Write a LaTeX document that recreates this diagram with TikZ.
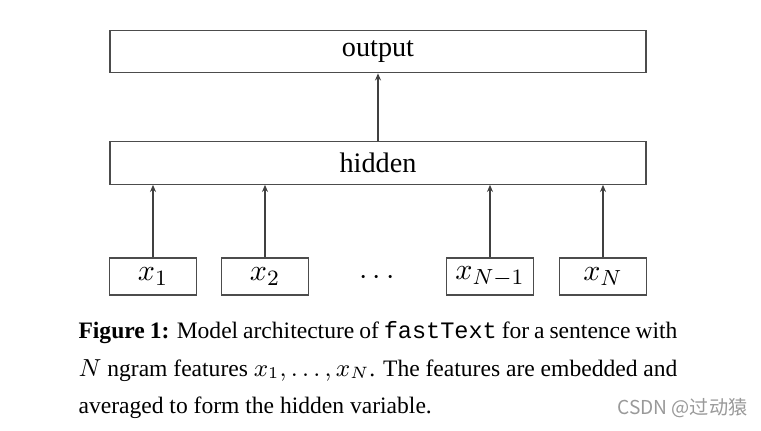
\documentclass[tikz,border=0pt]{standalone}
\usepackage{fontspec}
\setmainfont{Liberation Serif}
\setmonofont{Liberation Mono}
\newfontfamily\cjkfont{Noto Sans CJK SC}
\usetikzlibrary{arrows.meta, positioning}

\begin{document}
\begin{tikzpicture}[x=0.365pt, y=-0.365pt,
    layerbox/.style={draw=black!70, line width=0.45pt, minimum width=195.6pt,
      minimum height=15.5pt, inner sep=0pt, font=\fontsize{10.3}{12}\selectfont},
    inbox/.style={draw=black!70, line width=0.45pt, minimum width=31.8pt,
      minimum height=13.5pt, inner sep=0pt, font=\fontsize{11}{12}\selectfont},
    feed/.style={-{Stealth[length=2.6pt, width=2.2pt]}, line width=0.4pt, black!75},
    capline/.style={anchor=base west, inner sep=0pt, font=\fontsize{8.6}{10}\selectfont}]
  \useasboundingbox (0,0) rectangle (761,430);

  % Layers
  \node[layerbox] (output) at (378,51.5) {output};
  \node[layerbox] (hidden) at (378,163) {hidden};

  % Input features
  \node[inbox] (x1) at (153,276.5) {$x_1$};
  \node[inbox] (x2) at (265,276.5) {$x_2$};
  \node[font=\fontsize{11}{12}\selectfont] (dots) at (377,278) {$\cdots$};
  \node[inbox] (xn1) at (490,276.5) {$x_{N-1}$};
  \node[inbox] (xn) at (603,276.5) {$x_N$};

  % Connections
  \foreach \n in {x1, x2, xn1, xn} {
    \draw[feed] (\n.north) -- (\n.north |- hidden.south);
  }
  \draw[feed] (hidden.north) -- (output.south);

  % Caption
  \node[capline] (cap1) at (78,338) {\makebox[218.6pt][s]{\textbf{Figure 1:} Model architecture of \texttt{fastText} for a sentence with}};
  \node[capline] (cap2) at (78,376) {\makebox[218.6pt][s]{$N$ ngram features $x_1,\ldots,x_N$. The features are embedded and}};
  \node[capline] (cap3) at (78,413.5) {averaged to form the hidden variable.};

  % Watermark
  \node[anchor=base east, inner sep=0pt, text=black!40, font=\cjkfont\fontsize{7}{8}\selectfont] (mark) at (748,414) {CSDN @过动猿};
\end{tikzpicture}
\end{document}
